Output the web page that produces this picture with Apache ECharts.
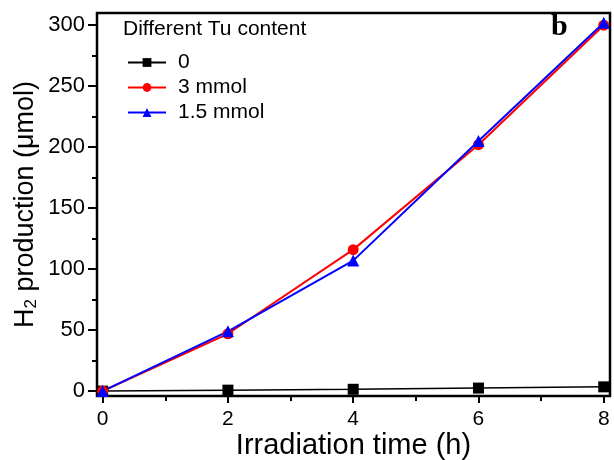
<!DOCTYPE html>
<html>
<head>
<meta charset="utf-8">
<script src="https://cdn.jsdelivr.net/npm/echarts@6/dist/echarts.min.js"></script>
<style>
  html, body { margin: 0; padding: 0; background: #fff; }
  #chart { width: 614px; height: 460px; }
</style>
</head>
<body>
<div id="chart"></div>
<script>
// data
var times = [0, 2, 4, 6, 8];
var tu0 = [0, 0.8, 1.5, 2.5, 3.5];
var tu3 = [0, 47, 116, 202, 300];
var tu15 = [0, 49, 107, 205, 302];
var xMajor = [0, 2, 4, 6, 8];
var xMinor = [1, 3, 5, 7];
var yMajor = [0, 50, 100, 150, 200, 250, 300];
var yMinor = [25, 75, 125, 175, 225, 275];

function pairs(ys) {
	var out = [];
	for (var i = 0; i < times.length; i++) {
		out.push([times[i], ys[i]]);
	}
	return out;
}

var font = 'Liberation Sans, Arial, sans-serif';
var xRange = { min: -0.09, max: 8.1 };
var yRange = { min: -4, max: 310 };

option = {
	animation : false,
	grid : {
		left : 97,
		right : 4,
		top : 13,
		bottom : 64,
		containLabel : false,
		outerBoundsMode : 'none',
		show : true,
		borderColor : '#000',
		borderWidth : 2.5,
		backgroundColor : 'transparent'
	},
	legend : {
		orient : 'vertical',
		left : 122,
		top : 47,
		itemWidth : 38,
		itemHeight : 11,
		itemGap : 4,
		textStyle : {
			fontFamily : font,
			fontSize : 21,
			color : '#000',
			padding : [ 0, 0, 0, 7 ]
		},
		data : [ '0', '3 mmol', '1.5 mmol' ]
	},
	graphic : [ {
		type : 'text',
		left : 123,
		top : 19,
		style : {
			text : 'Different Tu content',
			font : '21px ' + font,
			fill : '#000'
		}
	}, {
		type : 'text',
		left : 551,
		top : 12,
		style : {
			text : 'b',
			font : 'bold 30px Liberation Serif, Times New Roman, serif',
			fill : '#000'
		}
	} ],
	xAxis : [ {
		type : 'value',
		min : xRange.min,
		max : xRange.max,
		name : 'Irradiation time (h)',
		nameLocation : 'middle',
		nameGap : 35,
		nameMoveOverlap : false,
		nameTextStyle : { fontFamily : font, fontSize : 29, color : '#000' },
		axisLine : { show : false, onZero : false },
		splitLine : { show : false },
		axisTick : { customValues : xMajor, length : 7, lineStyle : { color : '#000', width : 2 } },
		axisLabel : { customValues : xMajor, margin : 13, fontFamily : font, fontSize : 21, color : '#000' }
	}, {
		type : 'value',
		position : 'bottom',
		min : xRange.min,
		max : xRange.max,
		axisLine : { show : false, onZero : false },
		splitLine : { show : false },
		axisTick : { customValues : xMinor, length : 5, lineStyle : { color : '#000', width : 2 } },
		axisLabel : { show : false }
	} ],
	yAxis : [ {
		type : 'value',
		min : yRange.min,
		max : yRange.max,
		name : '{a|H}{s|2}{a| production (μmol)}',
		nameLocation : 'middle',
		nameGap : 57,
		nameMoveOverlap : false,
		nameTextStyle : {
			rich : {
				a : { fontFamily : font, fontSize : 27, color : '#000' },
				s : { fontFamily : font, fontSize : 17, color : '#000', verticalAlign : 'bottom', padding : [ 11, 0, 0, 0 ] }
			}
		},
		axisLine : { show : false, onZero : false },
		splitLine : { show : false },
		axisTick : { customValues : yMajor, length : 9, lineStyle : { color : '#000', width : 2 } },
		axisLabel : { customValues : yMajor, margin : 12, fontFamily : font, fontSize : 22, color : '#000' }
	}, {
		type : 'value',
		position : 'left',
		min : yRange.min,
		max : yRange.max,
		axisLine : { show : false, onZero : false },
		splitLine : { show : false },
		axisTick : { customValues : yMinor, length : 5, lineStyle : { color : '#000', width : 2 } },
		axisLabel : { show : false }
	} ],
	series : [ {
		name : '0',
		type : 'line',
		data : pairs(tu0),
		symbol : 'rect',
		symbolSize : 11,
		itemStyle : { color : '#000' },
		lineStyle : { color : '#000', width : 1.5 }
	}, {
		name : '3 mmol',
		type : 'line',
		data : pairs(tu3),
		symbol : 'circle',
		symbolSize : 11,
		itemStyle : { color : '#ff0000' },
		lineStyle : { color : '#ff0000', width : 2 }
	}, {
		name : '1.5 mmol',
		type : 'line',
		data : pairs(tu15),
		symbol : 'triangle',
		symbolSize : 12,
		itemStyle : { color : '#0000ff' },
		lineStyle : { color : '#0000ff', width : 2 }
	} ]
};

var myChart = echarts.init(document.getElementById('chart'));
myChart.setOption(option);
</script>
</body>
</html>
